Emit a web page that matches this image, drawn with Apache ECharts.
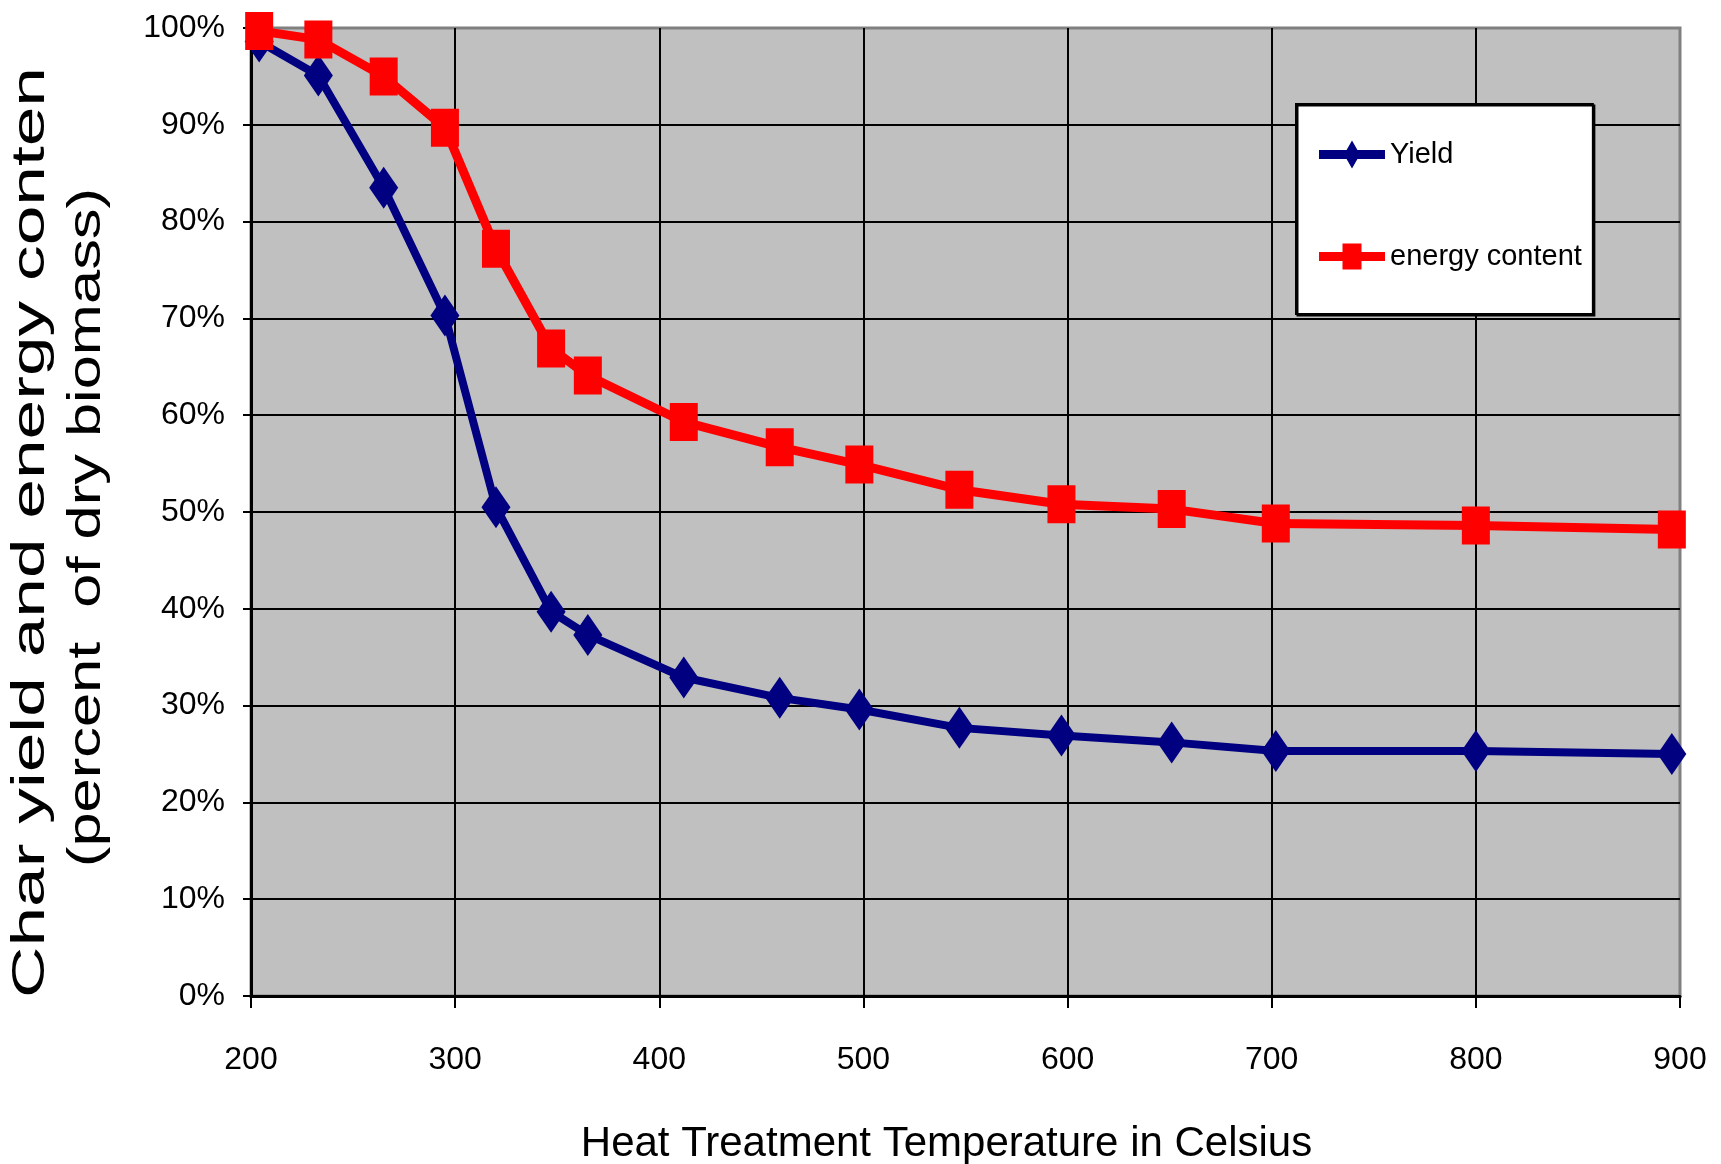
<!DOCTYPE html>
<html>
<head>
<meta charset="utf-8">
<title>Char yield and energy content</title>
<script src="https://cdn.jsdelivr.net/npm/echarts@6/dist/echarts.min.js"></script>
<style>
  html, body { margin: 0; padding: 0; background: #fff; }
  #chart { width: 1721px; height: 1164px; }
</style>
</head>
<body>
<div id="chart"></div>
<script>
// heat treatment temperature (Celsius), shared by both series
const temperatures = [204, 233, 265, 295, 320, 347, 365, 412, 459, 498, 547, 597, 651, 702, 800, 896];
// percent of dry biomass
const yieldValues = [98.6, 95.1, 83.5, 70.3, 50.5, 39.7, 37.3, 32.9, 30.8, 29.6, 27.7, 26.9, 26.2, 25.3, 25.3, 25.0];
const energyValues = [99.7, 98.8, 95.0, 89.7, 77.2, 66.9, 64.1, 59.3, 56.7, 54.9, 52.3, 50.8, 50.3, 48.8, 48.6, 48.2];

const seriesNames = ["Yield", "energy content"];
const yTitleLines = ["Char yield and energy conten", "(percent  of dry biomass)"];
const xTitle = "Heat Treatment Temperature in Celsius";

const SANS = "'Liberation Sans', Arial, sans-serif";
const TITLE_FONT = '46px "Liberation Sans", Arial, sans-serif';

// the original y title is stretched along its length, so scale it to the same span
const stretchTo = (text, font, length) => {
	const ctx = document.createElement("canvas").getContext("2d");
	ctx.font = font;
	return length / ctx.measureText(text).width;
};

const chart = echarts.init(document.getElementById("chart"), null, { renderer: "canvas" });

const option = {
	animation: false,
	backgroundColor: "#ffffff",
	grid: {
		left: 251,
		right: 41,
		top: 28,
		bottom: 168,
		show: true,
		backgroundColor: "#c0c0c0",
		borderColor: "#808080",
		borderWidth: 3,
	},
	legend: {
		orient: "vertical",
		left: 1296,
		top: 104,
		padding: [36, 11, 43, 23],
		itemGap: 73,
		itemWidth: 66,
		itemHeight: 28,
		backgroundColor: "#ffffff",
		borderColor: "#000000",
		borderWidth: 2,
		shadowColor: "#000000",
		shadowOffsetX: 1.5,
		shadowOffsetY: 1.5,
		textStyle: { fontFamily: SANS, fontSize: 29, color: "#000" },
		data: [
			{
				name: seriesNames[0],
				icon: "path://M0,9.5L66,9.5L66,18.5L0,18.5Z M33,0L41,14L33,28L25,14Z",
			},
			{
				name: seriesNames[1],
				icon: "path://M0,9.5L66,9.5L66,18.5L0,18.5Z M23.5,1L42.5,1L42.5,27L23.5,27Z",
			},
		],
	},
	xAxis: {
		type: "value",
		min: 200,
		max: 900,
		interval: 100,
		axisLine: { show: true, onZero: false, lineStyle: { color: "#000", width: 3 } },
		axisTick: { show: true, length: 12, lineStyle: { color: "#000", width: 2 } },
		axisLabel: { margin: 48, fontFamily: SANS, fontSize: 32, color: "#000" },
		splitLine: { show: true, showMaxLine: false, lineStyle: { color: "#000", width: 2 } },
	},
	yAxis: {
		type: "value",
		min: 0,
		max: 100,
		interval: 10,
		axisLine: { show: true, lineStyle: { color: "#000", width: 3 } },
		axisTick: { show: true, length: 8, lineStyle: { color: "#000", width: 2 } },
		axisLabel: { margin: 26, fontFamily: SANS, fontSize: 32, color: "#000", formatter: "{value}%" },
		splitLine: { show: true, showMaxLine: false, lineStyle: { color: "#000", width: 2 } },
	},
	graphic: [
		{
			type: "text",
			x: 31,
			y: 532.5,
			rotation: Math.PI / 2,
			scaleX: stretchTo(yTitleLines[0], TITLE_FONT, 931),
			style: {
				text: yTitleLines[0],
				font: TITLE_FONT,
				fill: "#000",
				align: "center",
				verticalAlign: "middle",
			},
		},
		{
			type: "text",
			x: 87,
			y: 527.5,
			rotation: Math.PI / 2,
			scaleX: stretchTo(yTitleLines[1], TITLE_FONT, 679),
			style: {
				text: yTitleLines[1],
				font: TITLE_FONT,
				fill: "#000",
				align: "center",
				verticalAlign: "middle",
			},
		},
		{
			type: "text",
			x: 946.5,
			y: 1144,
			style: {
				text: xTitle,
				font: '42px "Liberation Sans", Arial, sans-serif',
				fill: "#000",
				align: "center",
				verticalAlign: "middle",
			},
		},
	],
	series: [
		{
			name: seriesNames[0],
			type: "line",
			data: temperatures.map((t, i) => [t, yieldValues[i]]),
			symbol: "diamond",
			symbolSize: [29, 42],
			lineStyle: { color: "#000080", width: 8 },
			itemStyle: { color: "#000080" },
		},
		{
			name: seriesNames[1],
			type: "line",
			data: temperatures.map((t, i) => [t, energyValues[i]]),
			symbol: "rect",
			symbolSize: [28, 38],
			lineStyle: { color: "#ff0000", width: 9 },
			itemStyle: { color: "#ff0000" },
		},
	],
};

chart.setOption(option);
</script>
</body>
</html>
